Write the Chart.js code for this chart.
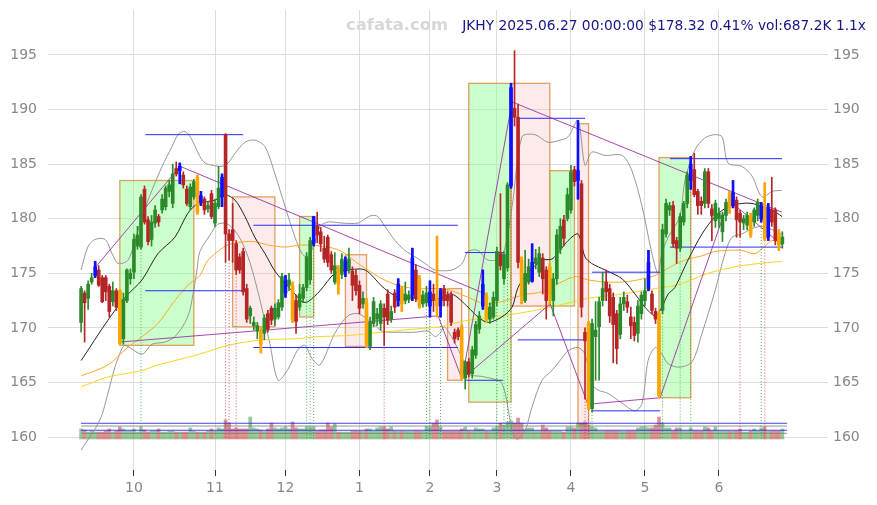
<!DOCTYPE html>
<html><head><meta charset="utf-8">
<script src="https://cdn.jsdelivr.net/npm/chart.js@4.4.1/dist/chart.umd.min.js"></script>
<style>html,body{margin:0;padding:0;background:#fff;}#wrap{width:877px;height:505px;}</style>
</head><body><div id="wrap"><canvas id="c" width="877" height="505"></canvas></div>
<script>
// ---------- DATA ----------
const titleText = 'JKHY 2025.06.27 00:00:00 $178.32 0.41% vol:687.2K 1.1x';
const watermark = 'cafata.com';
const monthTickIdx = [15, 38, 58, 79, 99, 118, 139, 160, 181];
const monthLabels = ['10', '11', '12', '1', '2', '3', '4', '5', '6'];
const yTicks = [160, 165, 170, 175, 180, 185, 190, 195];

const open = [
170.5,173.2,172.7,174.2,174.8,175.3,174.6,174.6,173.8,172.4,
173.4,173.4,169.0,172.5,174.5,175.1,177.5,177.4,182.7,179.9,
178.1,179.6,180.2,180.8,181.1,182.5,181.4,184.6,184.4,184.0,
182.7,181.1,182.0,183.8,181.5,181.8,180.9,182.3,179.6,181.1,
182.0,187.7,178.6,179.0,177.7,176.5,177.0,173.6,171.1,170.2,
169.7,169.8,169.5,171.3,171.8,170.8,171.0,171.9,173.2,173.9,
173.9,172.5,171.9,172.7,173.7,174.4,177.7,179.3,178.8,177.3,
178.3,176.7,174.2,175.3,174.9,175.2,175.3,175.2,174.8,173.9,
172.2,172.3,168.3,170.4,170.8,170.4,171.8,173.1,170.8,173.2,
172.5,173.6,172.5,172.6,173.0,175.3,174.5,172.2,172.3,172.0,
173.1,172.6,172.0,173.6,173.0,173.0,169.6,169.8,170.1,165.4,
166.9,165.8,167.5,169.9,172.0,173.0,170.8,171.0,172.5,176.8,
174.5,175.5,183.0,190.1,189.3,176.2,172.5,174.2,174.3,175.9,
175.1,176.4,175.3,175.6,172.5,174.5,177.2,179.9,180.0,180.8,
184.5,183.5,183.2,169.6,170.4,162.6,169.2,170.1,172.5,174.2,
173.6,172.8,171.3,169.4,172.2,172.4,171.0,170.5,169.5,171.3,
172.5,173.6,173.1,171.5,171.3,171.6,178.6,180.8,181.2,178.0,
177.3,179.7,181.4,183.5,184.5,182.5,181.6,181.4,184.3,180.9,
179.8,180.0,178.8,180.3,182.2,181.2,181.7,180.5,179.6,179.4,
180.2,179.7,180.3,180.0,181.0,178.3,180.8,180.8,178.6,177.7];
const high = [
173.8,173.4,174.3,175.0,176.1,175.7,174.8,174.8,174.0,174.2,
173.6,173.5,173.2,175.4,175.4,178.6,179.3,182.2,183.0,180.2,
180.3,181.2,180.4,182.2,183.0,183.5,185.0,185.2,185.1,184.3,
183.0,183.2,183.6,184.0,182.5,182.0,181.6,182.6,181.8,184.8,
184.1,187.8,179.0,181.4,178.0,176.8,177.3,174.0,172.0,171.0,
170.5,170.0,171.2,171.6,172.0,172.2,172.6,175.0,174.8,175.0,
174.2,173.0,174.0,174.0,176.9,178.3,180.2,180.6,179.2,178.4,
178.5,177.0,176.9,175.7,176.8,176.5,177.3,175.6,175.3,174.3,
173.3,172.7,171.0,172.8,171.8,172.5,172.2,173.5,172.0,173.5,
174.5,173.8,174.2,173.4,177.3,175.8,174.8,173.4,173.8,174.3,
174.0,178.4,173.6,173.9,173.3,173.3,169.9,170.0,170.3,167.0,
167.2,168.3,170.6,171.5,175.3,173.2,172.3,173.3,177.4,182.3,
177.0,183.3,192.4,195.4,190.5,176.5,177.1,176.3,177.7,177.2,
177.4,176.8,175.6,175.9,175.0,179.0,180.0,180.3,182.8,184.9,
184.8,189.0,183.5,170.0,170.6,170.8,172.4,172.8,175.1,175.3,
174.0,173.2,171.6,172.8,173.3,173.0,171.9,171.0,172.5,173.3,
174.5,177.1,173.4,171.8,171.5,179.5,181.8,181.5,181.6,178.3,
180.5,181.6,184.3,185.7,186.0,182.7,182.0,184.6,184.6,181.3,
181.7,181.0,180.6,181.8,182.5,183.5,182.0,180.8,180.3,180.6,
180.5,181.0,181.8,181.5,183.3,181.4,183.8,181.0,179.0,178.8];
const low = [
169.6,168.7,171.7,174.0,174.6,173.8,172.3,172.5,171.0,172.0,
171.6,168.5,168.5,172.3,174.0,174.5,177.2,177.2,179.5,177.6,
177.5,179.2,179.3,180.5,180.8,182.0,181.0,183.9,183.2,182.8,
181.2,180.8,181.8,180.4,181.2,180.4,180.6,180.0,179.3,180.9,
181.1,176.0,176.2,176.0,174.9,175.0,173.0,170.5,170.4,169.8,
169.0,167.7,168.9,169.6,170.3,170.2,170.8,171.6,172.8,173.4,
170.5,169.5,171.6,172.3,173.4,174.0,177.5,177.8,177.0,176.0,
175.6,175.0,174.0,173.1,174.5,174.7,175.0,172.5,173.0,171.3,
171.8,168.2,168.0,170.1,170.2,169.8,168.4,170.3,170.5,171.4,
172.0,171.5,172.2,172.3,172.5,172.4,171.8,171.9,172.0,171.0,
171.5,171.0,171.0,172.0,172.0,170.2,168.6,168.9,165.2,164.4,
165.5,165.4,167.2,169.5,171.7,170.5,170.4,170.8,172.0,175.3,
174.0,175.2,182.8,188.5,175.5,172.2,172.3,174.0,174.2,175.4,
174.7,173.1,170.8,172.2,171.1,174.0,176.8,177.5,179.8,180.5,
183.0,181.8,171.0,163.5,162.5,162.3,165.2,165.2,172.0,172.5,
170.5,166.8,166.7,169.0,171.6,171.4,169.0,168.8,168.7,170.8,
172.0,173.4,171.3,170.4,163.6,171.3,178.3,180.3,177.4,175.9,
177.0,179.4,181.0,182.7,182.0,180.4,180.4,181.0,181.0,178.0,
179.2,179.2,177.9,179.8,180.5,181.0,178.3,178.3,179.0,179.0,
178.3,179.3,179.8,179.7,178.0,178.0,179.3,177.6,177.1,177.3];
const close = [
173.6,172.3,174.0,174.6,175.6,173.9,172.4,173.3,171.5,173.4,
171.9,168.6,172.6,175.3,175.0,178.1,178.5,182.0,179.7,177.9,
179.7,180.8,179.7,181.8,182.8,183.1,184.1,184.1,184.8,183.1,
181.4,182.9,183.4,180.6,182.1,180.8,181.2,180.2,181.4,182.8,
183.8,178.6,178.0,178.0,175.3,175.3,173.3,170.8,171.8,170.5,
170.2,168.5,170.9,169.9,170.7,171.8,172.3,174.7,174.3,174.4,
170.8,170.6,173.1,173.7,176.5,178.0,180.2,178.5,177.7,176.3,
176.0,175.3,175.7,174.0,176.3,176.1,176.3,173.9,173.4,171.8,
172.7,168.5,170.5,172.4,171.3,172.2,171.0,170.7,171.5,171.9,
174.0,172.2,173.1,173.0,176.4,172.7,172.0,173.0,173.2,173.3,
172.6,172.0,173.4,172.5,172.5,170.5,169.0,169.2,165.4,166.9,
165.8,168.0,170.3,171.1,174.0,170.8,171.9,172.8,177.0,175.7,
176.7,183.1,192.0,189.3,176.0,173.0,175.0,175.6,176.0,176.4,
176.8,174.5,172.5,173.0,174.5,178.5,179.3,178.2,182.2,184.3,
183.4,184.4,171.9,168.8,162.8,170.4,169.8,172.4,173.6,173.3,
171.1,170.3,168.1,172.2,172.8,171.9,170.2,169.3,172.0,173.0,
173.4,176.0,171.6,170.8,163.8,179.0,181.4,181.2,177.7,177.3,
180.2,181.4,184.0,185.0,182.2,181.2,181.2,184.3,181.4,180.3,
181.4,180.5,180.3,181.5,181.0,182.4,179.9,179.7,180.0,180.3,
178.5,180.8,181.5,181.2,178.2,181.0,179.7,178.0,177.59,178.32];
// volume in thousands of shares
const volume = [
690,620,480,550,480,480,480,550,690,480,
550,830,690,550,550,690,480,830,620,480,
550,550,690,480,480,550,550,480,480,480,
480,760,550,480,480,480,550,690,550,760,
690,1310,1100,690,760,690,690,690,1510,760,
690,620,550,690,1100,760,690,760,830,690,
1170,760,690,690,830,830,830,550,620,620,
1100,830,1030,480,480,480,480,550,550,550,
550,690,690,550,760,830,830,690,830,550,
550,550,550,550,550,550,550,550,830,830,
1100,1310,830,550,550,550,550,550,690,830,
550,550,760,690,690,550,550,760,830,1100,
960,1170,1240,1100,1440,1100,690,760,760,550,
550,960,760,550,550,550,550,480,830,830,
760,1100,1100,1170,960,830,760,550,550,550,
550,550,550,550,550,550,550,550,760,830,
830,760,760,960,1510,1100,760,760,550,760,
760,550,550,760,550,550,550,830,760,550,
830,550,550,550,550,550,550,690,480,480,
550,690,550,760,830,550,550,550,550,687];
const blueIdx = [4,28,34,40,58,66,75,90,94,99,102,114,122,128,141,161,173,185,193,195];
const orangeIdx = [11,33,51,60,73,81,91,96,101,108,115,125,133,144,164,184,190,194,198];

// indicator lines, [dayIndex, price]
const maBlack = [[0,167.0],[7.6,170.7],[12.5,172.8],[17.3,174.4],[21.8,176.8],[26.6,178.3],[30.3,180.5],[33.2,181.4],[38.0,181.7],[40.8,182.2],[43.7,181.7],[46.5,180.2],[49.3,178.3],[52.2,176.8],[55.0,175.2],[57.9,174.1],[60.7,173.1],[62.7,172.4],[64.4,172.4],[67.8,173.4],[72.0,175.0],[75.7,175.3],[80.6,175.3],[85.4,173.8],[88.2,173.1],[91.1,172.7],[93.9,172.8],[96.7,172.5],[99.6,172.5],[101.8,172.7],[105.2,173.1],[109.8,171.9],[112.6,171.0],[115.5,170.5],[119.4,171.0],[122.3,171.9],[124.0,173.7],[126.8,175.0],[130.8,176.2],[133.6,176.3],[135.9,177.1],[138.2,178.0],[141.0,178.6],[143.0,176.5],[144.9,175.9],[148.7,175.3],[153.5,174.5],[157.2,173.1],[160.0,171.9],[162.9,171.1],[164.8,171.9],[166.6,173.1],[168.5,173.7],[172.2,176.2],[176.2,178.6],[179.9,180.2],[183.6,181.1],[187.5,181.4],[190.4,181.4],[193.2,181.1],[196.1,180.8],[198.9,180.2]];
const maOrange = [[0,165.6],[7.6,166.6],[12.5,168.0],[17.3,169.2],[21.8,170.4],[26.6,172.5],[30.3,173.9],[33.7,174.8],[36.0,176.2],[40.0,177.3],[41.7,177.6],[46.5,177.9],[49.3,177.9],[53.0,177.6],[57.9,177.4],[62.7,177.6],[70.1,177.4],[74.0,177.0],[77.7,176.1],[81.4,175.3],[85.4,174.5],[89.9,173.9],[94.8,173.6],[101.8,173.6],[105.2,173.4],[109.8,172.8],[114.6,172.2],[119.4,172.4],[123.1,172.8],[126.8,173.1],[130.8,173.3],[134.5,173.9],[140.2,174.7],[143.8,174.4],[148.7,174.2],[153.5,174.2],[158.1,174.4],[162.9,174.8],[165.7,175.3],[168.5,175.8],[172.2,176.3],[176.2,176.6],[179.9,177.0],[183.6,177.1],[187.5,177.1],[191.2,176.8],[194.1,177.5],[196.1,178.0],[198.9,177.8]];
const maYellow = [[0,164.6],[7.6,165.5],[12.5,165.8],[17.3,166.1],[21.8,166.6],[26.6,167.0],[33.7,167.6],[41.7,168.4],[51.3,168.9],[60.7,169.0],[67.8,169.2],[75.7,169.3],[85.4,169.6],[94.8,169.9],[101.8,170.1],[109.8,170.7],[119.4,171.1],[128.8,171.6],[135.9,172.1],[143.8,172.7],[153.5,173.1],[162.9,173.6],[169.9,174.0],[177.9,175.0],[187.5,175.7],[198.9,176.1]];
const bandUpper = [[0,175.3],[1.9,177.4],[3.9,178.1],[6.8,178.1],[8.8,176.8],[10.5,175.9],[13.3,176.2],[15.3,178.0],[17.3,180.2],[20.1,182.6],[23.0,184.8],[25.8,186.6],[27.5,187.7],[29.5,188.0],[31.5,187.2],[33.7,185.7],[35.2,185.1],[37.2,184.9],[40.0,184.8],[41.7,185.1],[43.7,186.0],[46.5,187.0],[49.3,187.2],[52.2,186.6],[55.0,184.1],[57.9,181.1],[60.7,178.3],[62.7,176.8],[64.4,176.5],[66.4,177.9],[67.8,179.3],[70.1,179.7],[74.0,179.6],[78.6,179.6],[80.6,180.0],[82.5,180.3],[84.2,180.2],[86.2,179.3],[89.1,178.0],[91.9,177.1],[94.8,176.5],[97.6,175.9],[100.5,175.3],[105.2,175.3],[108.1,175.9],[109.8,177.0],[112.6,177.1],[115.5,176.2],[119.4,176.5],[122.3,181.1],[125.1,187.5],[128.8,187.7],[132.5,187.0],[135.9,187.2],[138.2,187.5],[141.0,189.0],[143.0,184.9],[144.9,186.1],[148.7,185.8],[153.5,185.8],[156.3,184.4],[159.2,181.1],[162.0,176.8],[163.7,175.0],[164.8,176.8],[166.6,178.3],[169.9,180.2],[171.4,183.6],[174.2,186.3],[177.0,187.4],[179.9,187.7],[181.9,187.5],[183.6,185.1],[187.5,184.8],[190.4,183.9],[193.2,182.0],[196.1,182.5],[198.9,182.6]];
const bandLower = [[0,158.8],[5.4,161.6],[7.6,164.0],[9.6,166.4],[11.6,168.1],[12.5,168.4],[17.3,167.6],[20.1,168.5],[23.8,168.7],[26.6,169.2],[29.5,170.5],[31.0,171.8],[32.9,175.3],[33.7,177.0],[36.6,178.5],[38.8,179.5],[41.7,179.5],[45.1,178.2],[47.9,176.0],[50.8,172.5],[53.6,168.5],[55.9,165.2],[58.7,166.2],[61.5,168.0],[63.5,168.4],[65.5,167.2],[67.8,166.6],[72.0,169.5],[75.7,171.1],[78.6,171.3],[82.5,170.5],[85.4,169.7],[89.9,169.6],[94.8,169.6],[98.5,169.7],[100.5,169.2],[101.8,169.5],[103.2,170.1],[108.1,167.3],[109.8,165.8],[114.6,165.5],[119.4,164.9],[122.3,160.6],[123.7,159.8],[126.0,160.6],[127.9,162.7],[130.8,165.2],[133.6,166.1],[135.9,167.0],[138.2,167.9],[141.0,168.2],[143.0,167.6],[144.9,164.9],[146.7,164.3],[149.5,164.0],[153.5,163.1],[157.2,162.4],[159.2,163.1],[160.9,167.0],[162.9,168.2],[164.8,167.6],[166.6,166.7],[169.9,166.4],[173.4,166.9],[176.2,169.5],[179.9,173.4],[182.7,176.8],[184.7,178.3],[187.5,178.6],[190.4,179.1],[193.2,179.3],[196.1,179.0],[198.9,178.6]];

// zigzag trend lines
const trendA = [[4.2,175.6],[28.1,184.8],[114.1,173.2]];
const trendB = [[11.0,168.7],[101.3,171.1],[108.1,165.3],[122.3,190.7],[198.9,180.6]];
const trendC = [[108.1,165.3],[133.1,172.2],[143.8,163.0],[164.3,163.6],[183.8,181.7],[198.9,177.6]];

// rectangles
const boxStart = [11, 43, 62, 75, 104, 110, 122, 133, 141, 164];
const boxEnd   = [32, 55, 66, 81, 108, 122, 133, 140, 144, 173];
const boxLow   = [168.4, 170.1, 171.0, 168.3, 165.2, 163.2, 172.0, 172.0, 161.2, 163.6];
const boxHigh  = [183.5, 182.0, 180.2, 176.7, 173.6, 192.4, 192.4, 184.4, 188.7, 185.6];
const boxUp    = [1, 0, 1, 0, 0, 1, 0, 1, 0, 1];

// horizontal level segments
const levelStart = [18.2, 18.2, 48.9, 48.9, 108.9, 108.9, 124.5, 123.9, 145.0, 145.0, 167.1, 167.1];
const levelEnd   = [46.0, 46.3, 106.9, 106.9, 119.7, 119.7, 143.0, 143.0, 164.3, 164.3, 198.9, 198.9];
const levelPrice = [187.7, 173.4, 179.4, 168.2, 176.9, 165.2, 189.2, 168.9, 175.1, 162.4, 185.5, 177.4];

// signal days (dotted verticals)
const signalUp = [17, 64, 65, 66, 98, 99, 102, 118, 120, 121, 122, 145, 165, 170, 173, 193];
const signalDown = [41, 42, 44, 86, 143, 144, 187, 194];

// volume reference levels (thousands)
const volLevels = [1080, 890, 600, 390];

// ---------- CHART ----------
const N = open.length;
const idx = Array.from({length: N}, (_, i) => i);
const GREEN = '#2a8a2a', RED = '#b52525', BLUE = '#1010ff', ORANGE = '#ffa500';
function candleColor(i) {
  if (blueIdx.includes(i)) return BLUE;
  if (orangeIdx.includes(i)) return ORANGE;
  return close[i] >= open[i] ? GREEN : RED;
}
function lineDs(pairs, color, width, order, extra) {
  return Object.assign({
    type: 'line', data: pairs.map(p => ({x: p[0], y: p[1]})),
    borderColor: color, borderWidth: width, pointRadius: 0, fill: false,
    tension: 0, order: order, yAxisID: 'y'
  }, extra || {});
}
const datasets = [];
datasets.push({
  type: 'bar', yAxisID: 'yv', order: 100, grouped: false, barThickness: 3,
  data: idx.map(i => ({x: i, y: volume[i]})),
  backgroundColor: idx.map(i => close[i] >= open[i] ? 'rgba(50,150,50,0.5)' : 'rgba(190,40,40,0.5)')
});
volLevels.forEach((v, k) => {
  datasets.push(lineDs([[0, v], [200.3, v]], k % 2 === 0 ? 'rgba(30,30,255,0.85)' : 'rgba(120,120,120,0.8)', 1, 95, {yAxisID: 'yv'}));
});
datasets.push(lineDs(bandUpper, 'rgba(140,140,140,0.9)', 1, 90, {tension: 0.3}));
datasets.push(lineDs(bandLower, 'rgba(140,140,140,0.9)', 1, 90, {tension: 0.3}));
datasets.push(lineDs(maYellow, '#ffd21f', 1, 85, {tension: 0.3}));
datasets.push(lineDs(maOrange, '#ffa726', 1, 84, {tension: 0.3}));
datasets.push(lineDs(maBlack, '#222', 1, 83, {tension: 0.3}));
levelPrice.forEach((p, k) => {
  datasets.push(lineDs([[levelStart[k], p], [levelEnd[k], p]], '#2a2aff', 1, 70));
});
signalUp.forEach(i => datasets.push(lineDs([[i, low[i]], [i, 159.8]], 'rgba(40,160,40,0.8)', 1, 65, {borderDash: [1, 2]})));
signalDown.forEach(i => datasets.push(lineDs([[i, low[i]], [i, 159.8]], 'rgba(200,50,50,0.8)', 1, 65, {borderDash: [1, 2]})));
[trendA, trendB, trendC].forEach(t => datasets.push(lineDs(t, 'rgba(150,40,160,0.85)', 1, 60)));
datasets.push({
  type: 'bar', order: 20, grouped: false, barThickness: 1,
  data: idx.map(i => ({x: i, y: [low[i], high[i]]})),
  backgroundColor: idx.map(candleColor)
});
datasets.push({
  type: 'bar', order: 10, grouped: false, barThickness: 3, minBarLength: 1,
  data: idx.map(i => ({x: i, y: [open[i], close[i]]})),
  backgroundColor: idx.map(candleColor)
});
const special = idx.filter(i => blueIdx.includes(i) || orangeIdx.includes(i));
datasets.push({
  type: 'bar', order: 5, grouped: false, barThickness: 2,
  data: special.map(i => ({x: i, y: [low[i], high[i]]})),
  backgroundColor: special.map(candleColor)
});

const boxPlugin = {
  id: 'boxes',
  beforeDatasetsDraw(chart) {
    const {ctx, chartArea: a, scales: {x, y}} = chart;
    ctx.save();
    ctx.beginPath(); ctx.rect(a.left, a.top, a.width, a.height); ctx.clip();
    for (let k = 0; k < boxStart.length; k++) {
      const x0 = x.getPixelForValue(boxStart[k]), x1 = x.getPixelForValue(boxEnd[k]);
      const y0 = y.getPixelForValue(boxHigh[k]), y1 = y.getPixelForValue(boxLow[k]);
      ctx.fillStyle = boxUp[k] ? 'rgba(140,255,140,0.45)' : 'rgba(245,190,185,0.3)';
      ctx.fillRect(x0, y0, x1 - x0, y1 - y0);
      ctx.strokeStyle = 'rgba(220,145,70,0.85)';
      ctx.lineWidth = 1.3;
      ctx.strokeRect(x0, y0, x1 - x0, y1 - y0);
    }
    ctx.restore();
  }
};
const textPlugin = {
  id: 'texts',
  afterDraw(chart) {
    const ctx = chart.ctx;
    ctx.save();
    ctx.textBaseline = 'middle';
    ctx.font = 'bold 16.4px "DejaVu Sans"';
    ctx.fillStyle = '#d8d8d8';
    ctx.textAlign = 'left';
    ctx.fillText(watermark, 346, 26);
    ctx.font = '13.8px "DejaVu Sans"';
    ctx.fillStyle = '#16168a';
    ctx.textAlign = 'right';
    ctx.fillText(titleText, 866, 26);
    ctx.restore();
  }
};

Chart.defaults.font.family = '"DejaVu Sans", sans-serif';
Chart.defaults.font.size = 14;
const noPad = s => { s.paddingTop = 0; s.paddingBottom = 0; s.paddingLeft = 0; s.paddingRight = 0; };
const yCommon = {
  min: 156.98, max: 199.12,
  afterBuildTicks: s => { s.ticks = yTicks.map(v => ({value: v})); },
  border: {display: false}
};
new Chart(document.getElementById('c'), {
  type: 'bar',
  data: {datasets},
  options: {
    responsive: false, animation: false, events: [],
    layout: {padding: {top: 10, left: 0, right: 0, bottom: 0}},
    plugins: {legend: {display: false}, tooltip: {enabled: false}},
    scales: {
      x: {
        type: 'linear', min: -9.39, max: 211.95, offset: false,
        afterBuildTicks: s => { s.ticks = monthTickIdx.map(v => ({value: v})); },
        ticks: {callback: (v, i) => monthLabels[i], color: '#888', padding: 4, maxRotation: 0, autoSkip: false},
        grid: {color: '#dcdcdc', tickColor: '#333', tickLength: 6, lineWidth: 1, offset: false},
        border: {display: false},
        afterFit: s => { s.height = 35; noPad(s); }
      },
      y: Object.assign({}, yCommon, {
        position: 'left',
        ticks: {color: '#888', padding: 11},
        grid: {color: '#dcdcdc', drawTicks: false},
        afterFit: s => { s.width = 48; noPad(s); }
      }),
      y2: Object.assign({}, yCommon, {
        position: 'right',
        ticks: {color: '#888', padding: 5},
        grid: {display: false, drawTicks: false},
        afterFit: s => { s.width = 49; noPad(s); }
      }),
      yv: {display: false, min: -2130, max: 29470}
    }
  },
  plugins: [boxPlugin, textPlugin]
});
</script>
</body></html>
